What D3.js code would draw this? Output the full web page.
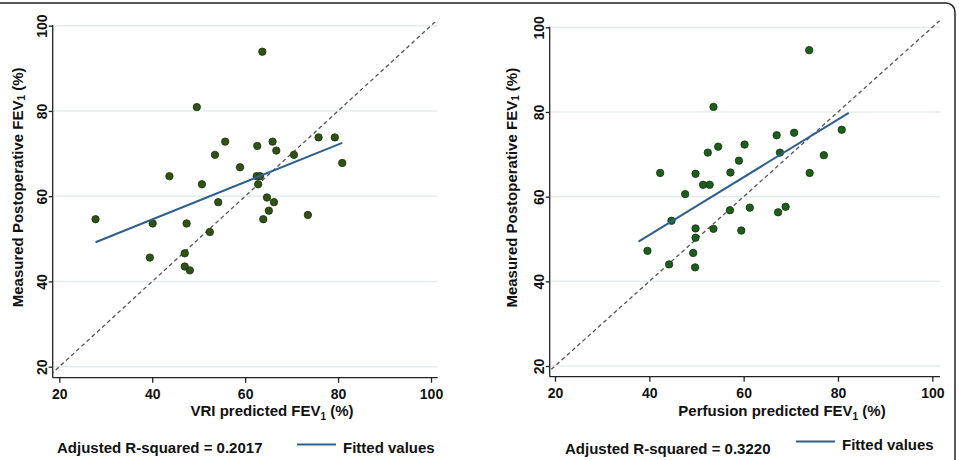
<!DOCTYPE html>
<html><head><meta charset="utf-8">
<script src="https://cdn.jsdelivr.net/npm/d3@7"></script>
<style>
body{margin:0;background:#fff;}
text{font-family:"Liberation Sans",Arial,sans-serif;font-weight:bold;fill:#111;}
</style></head>
<body><svg id="c" width="959" height="460"></svg>
<script>
// ---- data ----
const tickValues = [20, 40, 60, 80, 100];

const vriX = [63.7,49.6,55.7,62.6,65.9,66.7,75.8,79.3,53.5,70.5,58.9,43.7,62.5,63.2,62.8,50.7,80.9,54.2,64.7,66.2,65.1,63.9,73.5,27.8,40.1,47.4,52.4,39.5,47.0,47.0,48.1];
const vriY = [93.9,80.9,72.8,71.8,72.8,70.7,73.8,73.8,69.7,69.7,66.8,64.7,64.7,64.7,62.8,62.8,67.8,58.6,59.7,58.6,56.6,54.6,55.6,54.6,53.6,53.6,51.6,45.6,46.6,43.5,42.6];
const vriFitX = [27.8, 80.9];
const vriFitY = [49.2, 72.5];

const perfX = [73.9,53.6,80.8,70.7,67.0,60.2,54.6,52.4,67.7,77.0,59.0,42.3,49.8,57.2,74.0,51.4,52.8,47.6,57.1,61.3,67.3,68.9,44.7,49.8,53.6,59.5,49.8,39.6,49.3,44.2,49.7];
const perfY = [94.6,81.2,75.8,75.1,74.5,72.3,71.8,70.4,70.4,69.8,68.5,65.6,65.4,65.7,65.6,62.8,62.8,60.6,56.8,57.4,56.3,57.6,54.3,52.5,52.4,52.0,50.3,47.2,46.7,44.0,43.3];
const perfFitX = [37.7, 82.3];
const perfFitY = [49.4, 79.8];

const panels = [
  {xs:vriX, ys:vriY, fx:vriFitX, fy:vriFitY, xTitle:"VRI predicted FEV", r2:"Adjusted R-squared = 0.2017",
   xr:[59.3,431], yr:[366.7,25.7], L:52.7, R:437.7, T:25, B:377.7, ytl:42, yt:17,
   xtl:398.5, xtitle:416, xtc:272, r2x:57, r2y:452.5, lgX:297, lgY:444.5, lgT:343, lgTy:452.5,
   fill:"#2f5217", stroke:"#1b300b", clipT:22},
  {xs:perfX, ys:perfY, fx:perfFitX, fy:perfFitY, xTitle:"Perfusion predicted FEV", r2:"Adjusted R-squared = 0.3220",
   xr:[555,932.3], yr:[366,27.3], L:549.7, R:940, T:26.7, B:376.7, ytl:539, yt:511,
   xtl:398, xtitle:416, xtc:782, r2x:565, r2y:453.5, lgX:796, lgY:441.5, lgT:842, lgTy:450,
   fill:"#1d5e1d", stroke:"#0e330e", clipT:20}
];

const svg = d3.select("#c");
// outer frame
svg.append("rect").attr("x",-10).attr("y",3).attr("width",965).attr("height",470)
  .attr("rx",9).attr("fill","none").attr("stroke","#222").attr("stroke-width",1.5);

panels.forEach((p,i)=>{
  const g = svg.append("g");
  const x = d3.scaleLinear().domain([20,100]).range(p.xr);
  const y = d3.scaleLinear().domain([20,100]).range(p.yr);

  // gridlines
  g.selectAll(".grid").data(tickValues).enter().append("line")
    .attr("x1",p.L+1).attr("x2",p.R).attr("y1",d=>y(d)).attr("y2",d=>y(d))
    .attr("stroke","#e6ecee").attr("stroke-width",1.5);

  // clip
  const cid = "clip"+i;
  svg.append("clipPath").attr("id",cid).append("rect")
    .attr("x",p.L).attr("y",p.clipT).attr("width",p.R-p.L+4).attr("height",p.B-p.clipT);

  // y = x reference line
  g.append("line").attr("clip-path",`url(#${cid})`)
    .attr("x1",x(17)).attr("y1",y(17)).attr("x2",x(102)).attr("y2",y(102))
    .attr("stroke","#555").attr("stroke-width",1.3).attr("stroke-dasharray","4,3");

  // points
  g.selectAll(".pt").data(p.xs.map((v,k)=>[v,p.ys[k]])).enter().append("circle")
    .attr("cx",d=>x(d[0])).attr("cy",d=>y(d[1])).attr("r",3.7)
    .attr("fill",p.fill).attr("stroke",p.stroke).attr("stroke-width",0.8);

  // fitted line
  g.append("line").attr("x1",x(p.fx[0])).attr("y1",y(p.fy[0])).attr("x2",x(p.fx[1])).attr("y2",y(p.fy[1]))
    .attr("stroke","#2f5f8f").attr("stroke-width",2);

  // axes lines
  g.append("line").attr("x1",p.L).attr("x2",p.L).attr("y1",p.T).attr("y2",p.B).attr("stroke","#222").attr("stroke-width",1.3);
  g.append("line").attr("x1",p.L).attr("x2",p.R).attr("y1",p.B).attr("y2",p.B).attr("stroke","#222").attr("stroke-width",1.3);

  // x axis ticks
  const xa = g.append("g").attr("transform",`translate(0,${p.B})`)
    .call(d3.axisBottom(x).tickValues(tickValues).tickSize(5).tickSizeOuter(0).tickFormat(d3.format("d")));
  xa.select(".domain").remove();
  xa.selectAll(".tick line").attr("stroke","#222").attr("stroke-width",1.3);
  xa.selectAll(".tick text").attr("y",null).attr("dy",null)
    .attr("transform",`translate(0,${p.xtl-p.B})`)
    .style("font-size","14px").style("font-family","Liberation Sans, Arial, sans-serif").style("font-weight","bold").attr("fill","#111");

  // y axis ticks
  const ya = g.append("g").attr("transform",`translate(${p.L},0)`)
    .call(d3.axisLeft(y).tickValues(tickValues).tickSize(4).tickSizeOuter(0).tickFormat(d3.format("d")));
  ya.select(".domain").remove();
  ya.selectAll(".tick line").attr("stroke","#222").attr("stroke-width",1.3);
  ya.selectAll(".tick text").attr("x",null).attr("dy",null).attr("y",null)
    .attr("text-anchor","middle").attr("dominant-baseline","central")
    .attr("transform",`translate(${p.ytl-p.L},0) rotate(-90)`)
    .style("font-size","14px").style("font-family","Liberation Sans, Arial, sans-serif").style("font-weight","bold").attr("fill","#111");

  // x title
  const xt = g.append("text").attr("x",p.xtc).attr("y",p.xtitle).attr("text-anchor","middle").style("font-size","15px");
  xt.append("tspan").text(p.xTitle);
  xt.append("tspan").text("1").attr("dy",4).style("font-size","10px");
  xt.append("tspan").text(" (%)").attr("dy",-4);

  // y title
  const yt = g.append("text").attr("transform",`translate(${p.yt},${(p.T+p.B)/2 - 14}) rotate(-90)`)
    .attr("text-anchor","middle").attr("dominant-baseline","central").style("font-size","15px");
  yt.append("tspan").text("Measured Postoperative FEV");
  yt.append("tspan").text("1").attr("dy",4).style("font-size","10px");
  yt.append("tspan").text(" (%)").attr("dy",-4);

  // legend
  g.append("text").attr("x",p.r2x).attr("y",p.r2y).style("font-size","15px").text(p.r2);
  g.append("line").attr("x1",p.lgX).attr("x2",p.lgX+39).attr("y1",p.lgY).attr("y2",p.lgY)
    .attr("stroke","#2f5f8f").attr("stroke-width",2);
  g.append("text").attr("x",p.lgT).attr("y",p.lgTy).style("font-size","15px").text("Fitted values");
});
</script>
</body></html>
